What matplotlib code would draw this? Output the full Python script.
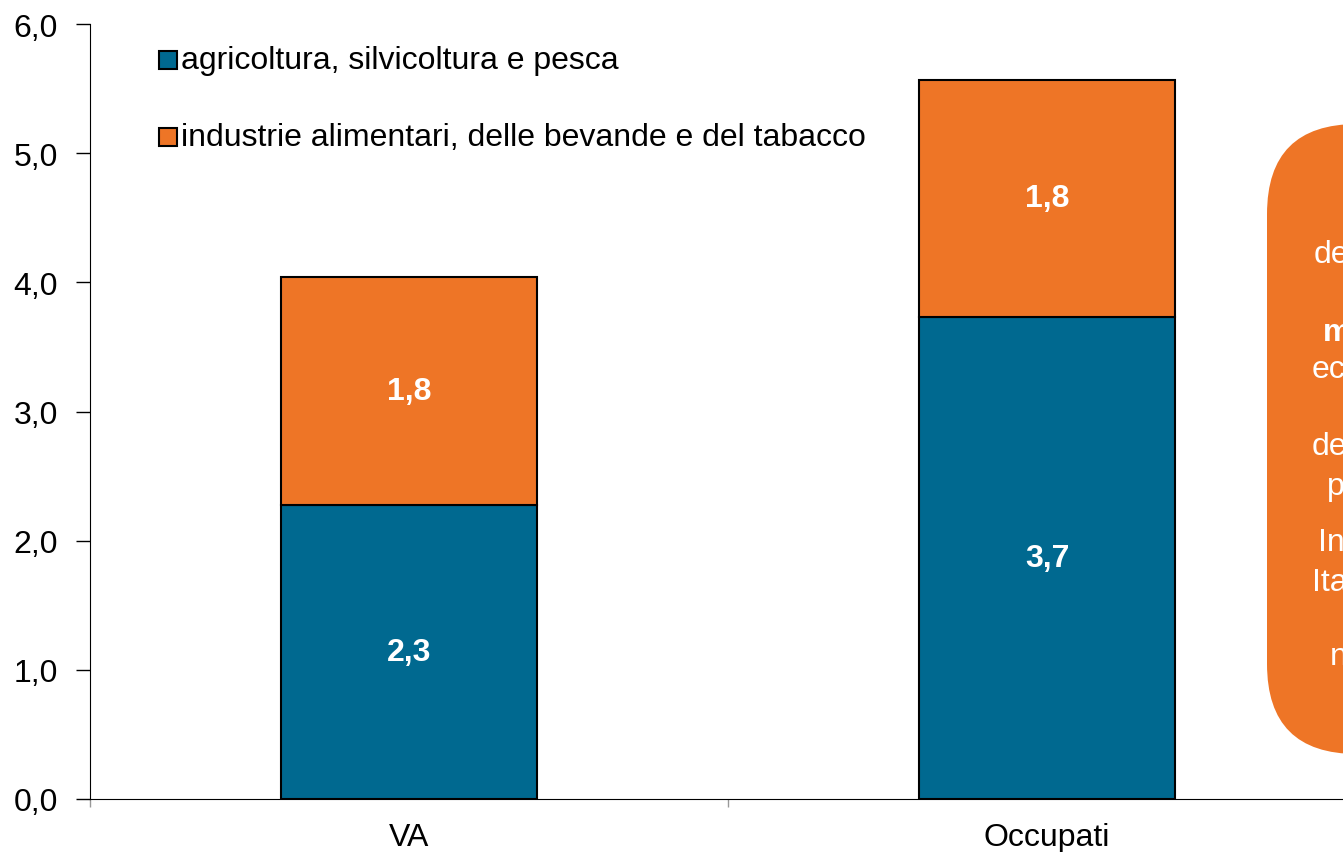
import numpy as np
import matplotlib.pyplot as plt
from matplotlib.patches import FancyBboxPatch
from matplotlib.transforms import IdentityTransform

plt.rcParams['font.family'] = ['Liberation Sans', 'DejaVu Sans']

categories = ['VA', 'Occupati']
agricoltura = [2.28, 3.73]
industrie = [1.76, 1.84]
lab_agri = ['2,3', '3,7']
lab_ind = ['1,8', '1,8']
series_names = ['agricoltura, silvicoltura e pesca',
                'industrie alimentari, delle bevande e del tabacco']
blue = '#006990'
orange = '#EE7526'

fig = plt.figure(figsize=(13.43, 8.53), dpi=100)
W, H = 1343, 853
ax = fig.add_axes([90 / W, 1 - 800 / H, 1276 / W, 775 / H])

x = np.arange(len(categories))
ax.bar(x, agricoltura, width=0.4, color=blue, edgecolor='black', linewidth=1.5)
ax.bar(x, industrie, width=0.4, bottom=agricoltura, color=orange,
       edgecolor='black', linewidth=1.5)

for i in range(len(x)):
    ax.text(x[i], agricoltura[i] / 2, lab_agri[i], ha='center', va='center',
            color='white', fontsize=23, fontweight='bold')
    ax.text(x[i], agricoltura[i] + industrie[i] / 2, lab_ind[i], ha='center', va='center',
            color='white', fontsize=23, fontweight='bold')

ax.set_xlim(-0.5, 1.5)
ax.set_ylim(0, 6)
yt = np.arange(0, 6.1, 1)
ax.set_yticks(yt)
ax.set_yticklabels([f'{v:.1f}'.replace('.', ',') for v in yt], fontsize=23)
ax.set_xticks([-0.5, 0.5])
ax.set_xticklabels(['', ''])
ax.tick_params(axis='x', length=6, color='#999999', width=1)
ax.tick_params(axis='y', length=10, width=1, pad=13)
for i, c in enumerate(categories):
    ax.text(x[i], -0.18, c, ha='center', va='top', fontsize=23)
for s in ['top', 'right']:
    ax.spines[s].set_visible(False)

# legend
for j, (name, col) in enumerate(zip(series_names, [blue, orange])):
    yy = 1 - (61 + 77 * j) / H
    fig.patches.append(plt.Rectangle((159 / W, yy - 9 / H), 18 / W, 18 / H,
                                     transform=fig.transFigure, facecolor=col,
                                     edgecolor='black', linewidth=1.5))
    fig.text(181 / W, yy, name, ha='left', va='center', fontsize=23)

# rounded callout box (cut at the edge), drawn in pixels
box = FancyBboxPatch((1267, H - 755), 250, 630,
                     boxstyle='round,pad=0,rounding_size=90',
                     transform=IdentityTransform(), facecolor=orange, edgecolor='none',
                     clip_on=False)
fig.patches.append(box)
frags = [('de', 1314, 255, 'normal'), ('m', 1323, 333, 'bold'), ('ec', 1312, 370, 'normal'),
         ('de', 1312, 447, 'normal'), ('p', 1327, 487, 'normal'), ('In', 1318, 543, 'normal'),
         ('Ita', 1312, 583, 'normal'), ('n', 1330, 657, 'normal')]
for t, fx, fy, w in frags:
    fig.text(fx / W, 1 - fy / H, t, ha='left', va='center', color='white',
             fontsize=23, fontweight=w)

fig.savefig('out.png', dpi=100)
